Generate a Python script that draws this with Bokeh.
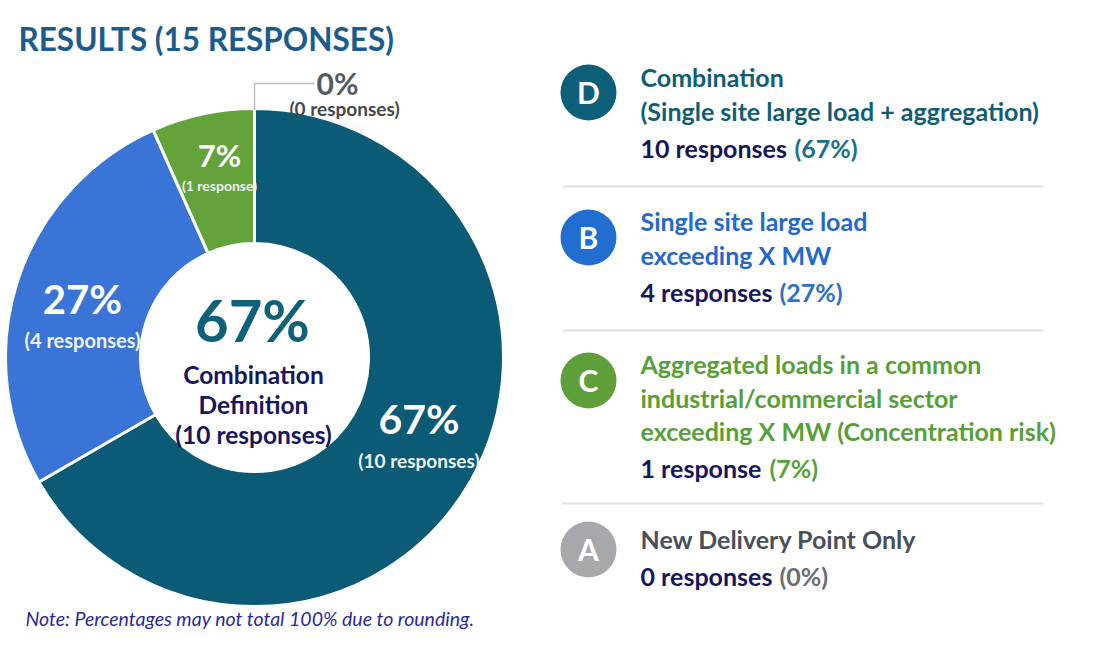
import numpy as np
from bokeh.plotting import figure
from bokeh.models import Range1d
from bokeh.embed import file_html
from bokeh.resources import INLINE
from bokeh.core.properties import value

# ---------------- data ----------------
title = "RESULTS (15 RESPONSES)"
letters = ["D", "B", "C", "A"]
counts = [10, 4, 1, 0]
pct_labels = ["67%", "27%", "7%", "0%"]
resp_labels = ["10 responses", "4 responses", "1 response", "0 responses"]
slice_resp = ["(10 responses)", "(4 responses)", "(1 response)", "(0 responses)"]
legend_titles = [
    ["Combination", "(Single site large load + aggregation)"],
    ["Single site large load", "exceeding X MW"],
    ["Aggregated loads in a common", "industrial/commercial sector",
     "exceeding X MW (Concentration risk)"],
    ["New Delivery Point Only"],
]
center_lines = ["Combination", "Definition", "(10 responses)"]
note = "Note: Percentages may not total 100% due to rounding."

# ---------------- style ----------------
slice_colors = ["#0b5a76", "#3a74d7", "#64a33b", "#a8aaae"]
badge_colors = ["#0e5f7a", "#216dd0", "#5e9f39", "#a6a8ac"]
title_colors = ["#0f5e76", "#2468cf", "#57a038", "#4a4f5c"]
pct_colors = ["#17708e", "#2f6fd0", "#5aa33a", "#6a6d72"]
NAVY = "#161660"
FONT = value("Lato")

W, H = 1094, 648

p = figure(width=W, height=H, x_range=Range1d(0, W), y_range=Range1d(0, H),
           output_backend="svg", toolbar_location=None, min_border=0,
           x_axis_type=None, y_axis_type=None)
p.grid.visible = False
p.outline_line_color = None
p.background_fill_color = "white"
p.border_fill_color = "white"


def Y(v):
    return H - v


def txt(x, base, s, size, color, align="left", style="bold"):
    """x and baseline in page pixels (y downwards)."""
    yc = base - 0.37 * size
    p.text(x=[x], y=[Y(yc)], text=[s], text_font=FONT,
           text_font_size="%.1fpx" % size, text_font_style=style,
           text_color=color, text_align=align, text_baseline="middle")


# title
txt(18, 50, title, 31.5, "#1c5b8d")

# ---------------- donut ----------------
cxi, cyi = 254, 357
cx, cy = cxi, Y(cyi)
r_out, r_in = 249, 114
total = sum(counts)
cum = np.cumsum([0] + counts)
starts = np.pi / 2 - 2 * np.pi * cum[:-1] / total
ends = np.pi / 2 - 2 * np.pi * cum[1:] / total

idx = [i for i, c in enumerate(counts) if c > 0]
p.annular_wedge(x=cx, y=cy, inner_radius=r_in, outer_radius=r_out,
                start_angle=[starts[i] for i in idx],
                end_angle=[ends[i] for i in idx], direction="clock",
                fill_color=[slice_colors[i] for i in idx],
                line_color="white", line_width=3)

# slice labels
label_style = {
    0: dict(ps=41, ss=19, nudge=(6, -10), po=-5, so=29, r=183),
    1: dict(ps=40, ss=20, nudge=(2, 17), po=-4, so=29, r=183),
    2: dict(ps=31, ss=14, nudge=(3, -9), po=-3, so=21, r=183),
}
for i in idx:
    mid = (starts[i] + ends[i]) / 2
    st = label_style[i]
    lx = cxi + st["r"] * np.cos(mid) + st["nudge"][0]
    ly = cyi - st["r"] * np.sin(mid) + st["nudge"][1]
    txt(lx, ly + st["po"], pct_labels[i], st["ps"], "white", align="center")
    txt(lx, ly + st["so"], slice_resp[i], st["ss"], "#eef3f7", align="center")

# zero-response callout
for i, c in enumerate(counts):
    if c == 0:
        a = starts[i]
        x0 = cxi + r_out * np.cos(a)
        y0 = cyi - r_out * np.sin(a)
        p.line(x=[x0, x0, x0 + 60], y=[Y(y0 + 2), Y(y0 - 25), Y(y0 - 25)],
               line_color="#b9bcc0", line_width=1.5)
        txt(x0 + 62, y0 - 14, pct_labels[i], 30, "#555a60")
        txt(x0 + 90, y0 + 7, slice_resp[i], 19, "#45484d", align="center")

# center text
txt(cxi - 2, 340, pct_labels[0], 58, "#0f6079", align="center")
for k, s in enumerate(center_lines):
    txt(cxi - 1, 383 + 30 * k, s, 24.5, NAVY, align="center")

# ---------------- legend ----------------
first_base = [86, 230, 373, 548]
badge_y = [92, 237, 380, 549]
pct_x = [794, 779, 769, 779]
for i in range(4):
    bx, by = 588, badge_y[i]
    p.circle(x=[bx], y=[Y(by)], radius=28, fill_color=badge_colors[i],
             line_color=None)
    txt(bx, by + 11, letters[i], 30, "white", align="center")
    b = first_base[i]
    for k, s in enumerate(legend_titles[i]):
        txt(640, b + 33.5 * k, s, 25, title_colors[i])
    rb = b + 33.5 * (len(legend_titles[i]) - 1) + 37
    txt(640, rb, resp_labels[i], 25, NAVY)
    txt(pct_x[i], rb, "(" + pct_labels[i] + ")", 25, pct_colors[i])

for sy in [186, 330, 503]:
    p.line(x=[562, 1043], y=[Y(sy), Y(sy)], line_color="#dedfe1", line_width=2)

# note
txt(25, 625, note, 19.5, "#2a2a9e", style="italic")

open("out.html", "w").write(file_html(p, INLINE))
